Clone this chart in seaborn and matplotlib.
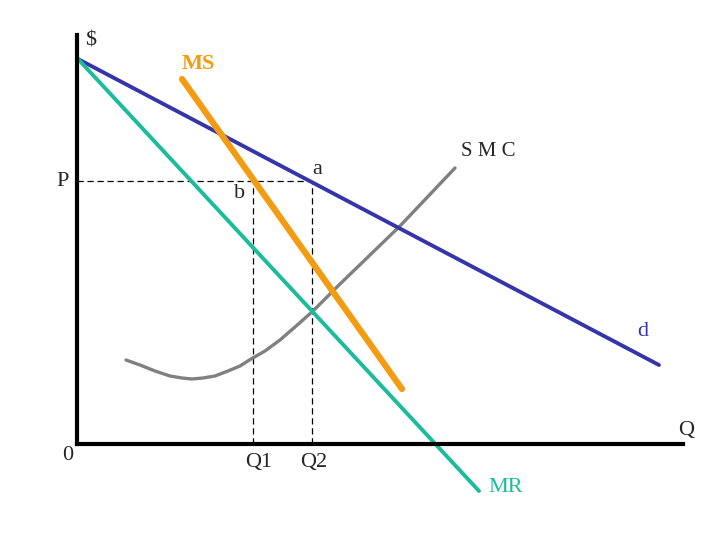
import pandas as pd
import matplotlib.pyplot as plt
import seaborn as sns

# curve data (quantity, price)
d_q = [1, 582]
d_p = [385, 79]
mr_q = [1, 402]
mr_p = [385, -47]
ms_q = [105, 325]
ms_p = [365, 55]
smc_q = [49, 63, 78, 93, 105, 115, 126, 138, 151, 163, 174, 188, 203, 218,
         236, 263, 323, 378]
smc_p = [84, 79, 73, 68, 66, 65, 66, 68, 73, 78, 85, 93, 104, 117,
         133, 160, 218, 276]

price_p = 263
q1 = 176
q2 = 235

sns.set_style("white")
plt.rcParams['font.family'] = ['Liberation Serif', 'DejaVu Serif']

fig = plt.figure(figsize=(7.2, 5.4), dpi=100)
ax = fig.add_axes([0, 0, 1, 1])
ax.set_xlim(-77, 643)
ax.set_ylim(-96, 444)

# axes drawn as spines through the origin
for side in ['top', 'right']:
    ax.spines[side].set_visible(False)
ax.spines['left'].set_position(('data', 0))
ax.spines['bottom'].set_position(('data', 0))
ax.spines['left'].set_bounds(0, 409)
ax.spines['bottom'].set_bounds(0, 606)
for side in ['left', 'bottom']:
    ax.spines[side].set_linewidth(3)
    ax.spines[side].set_color('black')
ax.set_xticks([])
ax.set_yticks([])

# dashed guides
ax.plot([0, q2], [price_p, price_p], color='black', lw=0.9, dashes=(5, 3))
ax.plot([q1, q1], [0, price_p], color='black', lw=0.9, dashes=(5, 3))
ax.plot([q2, q2], [0, price_p], color='black', lw=0.9, dashes=(5, 3))

blue = '#3535AA'
teal = '#1ABC9C'
orange = '#F39C12'
gray = '#808080'

sns.lineplot(x=smc_q, y=smc_p, color=gray, lw=2.4, ax=ax, sort=False)
sns.lineplot(x=d_q, y=d_p, color=blue, lw=2.8, ax=ax)
sns.lineplot(x=mr_q, y=mr_p, color=teal, lw=2.8, ax=ax)
sns.lineplot(x=ms_q, y=ms_p, color=orange, lw=4.5, ax=ax, solid_capstyle='round')

fs = 16
ax.text(14, 403, '$', fontsize=fs, ha='center', va='center')
ax.text(121, 380, 'MS', fontsize=fs, ha='center', va='center', color=orange, fontweight='bold')
ax.text(-14, 263, 'P', fontsize=fs, ha='center', va='center')
ax.text(240, 274, 'a', fontsize=fs, ha='center', va='center')
ax.text(163, 251, 'b', fontsize=fs, ha='center', va='center')
ax.text(411, 293, 'S M C', fontsize=fs - 1, ha='center', va='center')
ax.text(566, 113, 'd', fontsize=fs, ha='center', va='center', color=blue)
ax.text(609, 14, 'Q', fontsize=fs, ha='center', va='center')
ax.text(-9, -12, '0', fontsize=fs, ha='center', va='center')
ax.text(182, -18, 'Q1', fontsize=fs, ha='center', va='center')
ax.text(237, -18, 'Q2', fontsize=fs, ha='center', va='center')
ax.text(429, -44, 'MR', fontsize=fs, ha='center', va='center', color=teal)

fig.savefig('out.png', dpi=100)
